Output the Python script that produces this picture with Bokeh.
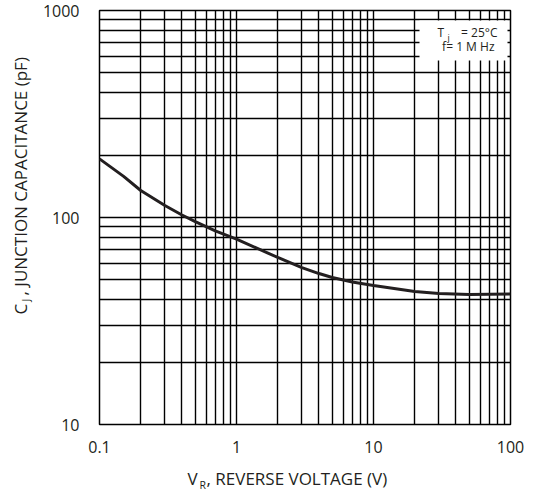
from bokeh.plotting import figure
from bokeh.models import ColumnDataSource, FixedTicker, Label, BoxAnnotation
from bokeh.layouts import row, column
from bokeh.embed import file_html
from bokeh.resources import INLINE
import math

# ---- data ----
voltage = [0.1, 0.15, 0.2, 0.3, 0.4, 0.5, 0.6, 0.7, 1, 2, 3, 4, 5, 7, 10,
           20, 30, 50, 100]
capacitance = [192, 158, 135, 114.3, 102.8, 95.6, 90.4, 86.1, 78.6, 64.1,
               57.3, 53.6, 51.3, 48.8, 46.9, 43.9, 42.9, 42.5, 42.7]

x_tick_values = [0.1, 1, 10, 100]
x_tick_labels = ["0.1", "1", "10", "100"]
y_tick_values = [10, 100, 1000]
y_tick_labels = ["10", "100", "1000"]

mantissas = [1, 2, 3, 4, 5, 6, 7, 8, 9]
x_grid_values = [m * d for d in [0.1, 1, 10] for m in mantissas] + [100]
y_grid_values = [m * d for d in [10, 100] for m in mantissas] + [1000]

INK = "#231f20"
FONT = "Open Sans"


def text_panel(w, h):
    f = figure(width=w, height=h, x_axis_location=None, y_axis_location=None,
               output_backend="svg", toolbar_location=None,
               min_border=0, min_border_left=0, min_border_right=0,
               min_border_top=0, min_border_bottom=0, frame_align=False)
    f.outline_line_color = None
    f.xgrid.visible = False
    f.ygrid.visible = False
    f.background_fill_color = "white"
    f.border_fill_color = "white"
    return f


def lab(fig, text, x, y, size, angle=0.0, align="left"):
    fig.add_layout(Label(x=x, y=y, x_units="screen", y_units="screen",
                         text=text, text_font=FONT, text_font_size=size,
                         text_color=INK, text_align=align,
                         text_baseline="middle", angle=angle))


# ---- main chart ----
p = figure(width=489, height=464, x_axis_type="log", y_axis_type="log",
           x_range=(0.1, 100), y_range=(10, 1000),
           output_backend="svg", toolbar_location=None,
           min_border_left=58, min_border_right=18, min_border_top=10,
           min_border_bottom=40, frame_align=False)
p.background_fill_color = "white"
p.border_fill_color = "white"
p.outline_line_color = "black"
p.outline_line_width = 1.5

p.xgrid.ticker = FixedTicker(ticks=x_grid_values)
p.ygrid.ticker = FixedTicker(ticks=y_grid_values)
for g in (p.xgrid, p.ygrid):
    g.grid_line_color = "black"
    g.grid_line_width = 1.4
    g.grid_line_alpha = 1.0

for ax, vals, labs in ((p.xaxis[0], x_tick_values, x_tick_labels),
                       (p.yaxis[0], y_tick_values, y_tick_labels)):
    ax.ticker = FixedTicker(ticks=vals, minor_ticks=[])
    ax.major_label_overrides = dict(zip(vals, labs))
    ax.axis_line_color = None
    ax.major_tick_line_color = None
    ax.minor_tick_line_color = None
    ax.major_tick_out = 0
    ax.major_tick_in = 0
    ax.major_label_text_font = FONT
    ax.major_label_text_font_size = "16px"
    ax.major_label_text_color = INK
p.xaxis[0].major_label_standoff = 16
p.yaxis[0].major_label_standoff = 20

src = ColumnDataSource(dict(v=voltage, c=capacitance))
p.line("v", "c", source=src, line_color=INK, line_width=3)

# condition box
p.add_layout(BoxAnnotation(left=320, right=408, top=404, bottom=364,
                           left_units="screen", right_units="screen",
                           top_units="screen", bottom_units="screen",
                           fill_color="white", fill_alpha=1.0,
                           line_color=None))
lab(p, "T", 338, 392, "12px")
lab(p, "j", 348, 387, "9px")
lab(p, "= 25°C", 398, 392, "12px", align="right")
lab(p, "f= 1 M Hz", 395, 378, "12px", align="right")

# ---- axis titles ----
xt = text_panel(489, 30)
lab(xt, "V", 148, 16, "17px")
lab(xt, "R", 160, 10, "10.5px")
lab(xt, ", REVERSE VOLTAGE (V)", 167, 16, "17px")

yt = text_panel(39, 494)
r = math.pi / 2
lab(yt, "C", 20, 180, "17px", angle=r)
lab(yt, "J", 25, 193, "10.5px", angle=r)
lab(yt, ", JUNCTION CAPACITANCE (pF)", 20, 199, "17px", angle=r)

layout = row(yt, column(p, xt, spacing=0), spacing=0)
open("out.html", "w").write(file_html(layout, INLINE))
